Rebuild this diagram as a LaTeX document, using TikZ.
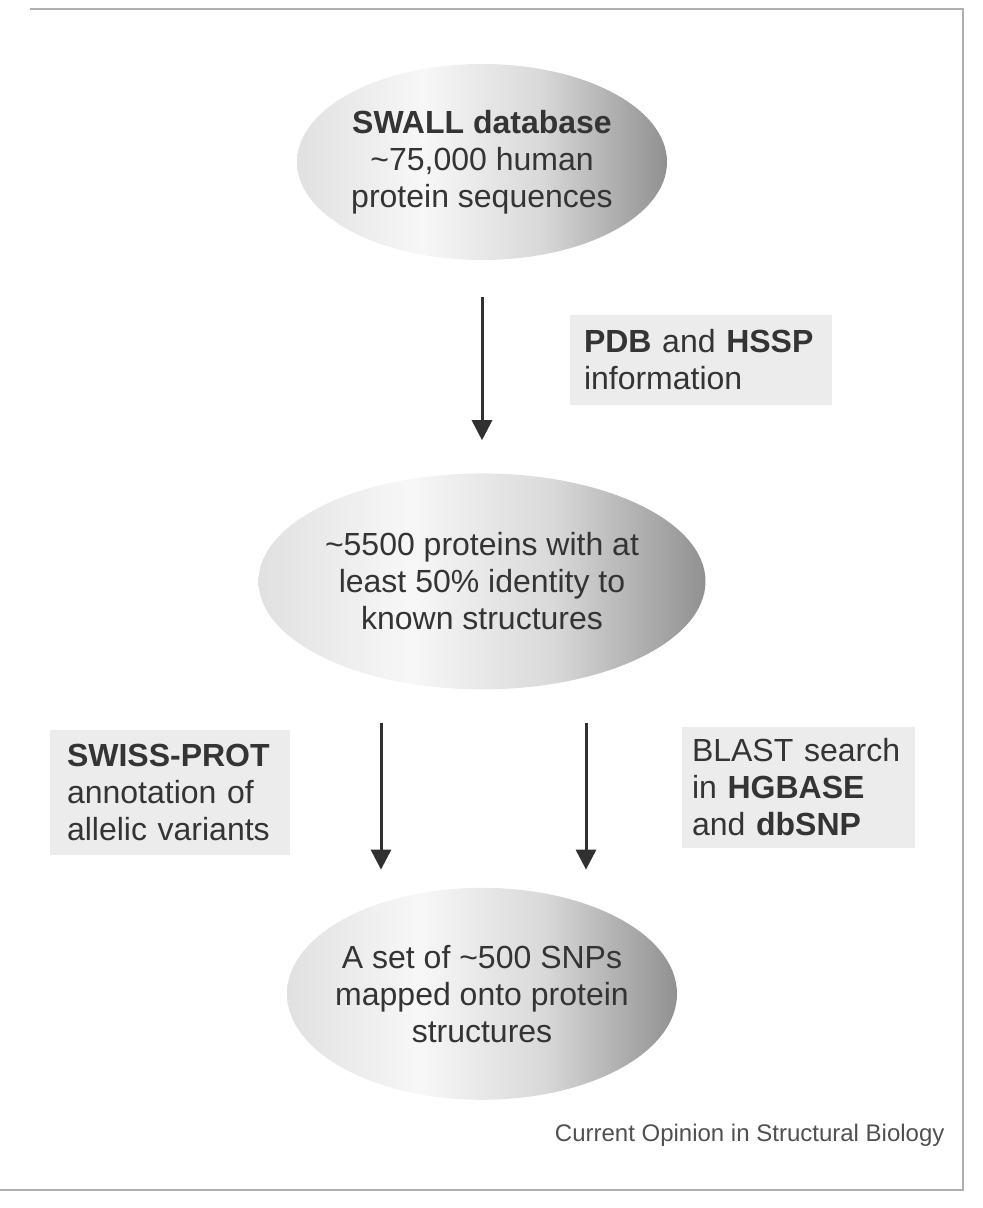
\documentclass[tikz,border=0pt]{standalone}
\usepackage{fontspec}
\setmainfont{Liberation Sans}
\usetikzlibrary{positioning,arrows.meta,shapes.geometric}
\usepackage{xcolor}
\definecolor{inkcol}{RGB}{52,52,52}
\definecolor{arrowcol}{RGB}{48,48,48}
\definecolor{notecol}{RGB}{236,236,236}
\definecolor{framecol}{RGB}{175,175,175}
\definecolor{creditcol}{RGB}{80,80,80}
\pgfdeclarehorizontalshading{ovalshade}{100bp}{color(0bp)=(black!26); color(25bp)=(black!12); color(42bp)=(black!3); color(58bp)=(black!15); color(82bp)=(black!55); color(100bp)=(black!44)}

\begin{document}
\begin{tikzpicture}[
    x=1pt, y=-1pt,
    font=\fontsize{32}{37}\selectfont,
    oval/.style={ellipse, shading=ovalshade, inner sep=0pt, align=center, text=inkcol},
    note/.style={fill=notecol, align=left, text=inkcol, inner sep=0pt},
    flow/.style={-{Triangle[width=20pt,length=20pt]}, line width=3pt, draw=arrowcol},
]
\useasboundingbox (0,0) rectangle (983,1208);

% ---- Frame ----
\draw[framecol, line width=1.2pt] (30,9) -- (963,9) -- (963,1190) -- (0,1190);

% ---- Ovals ----
\node[oval, minimum width=370pt, minimum height=196pt] (swall) at (482,162) {
  \textbf{SWALL database}\\
  \char`~75,000 human\\
  protein sequences
};
\node[oval, minimum width=447pt, minimum height=216pt, below=213pt of swall] (hits) {
  \char`~5500 proteins with at\\
  least 50\% identity to\\
  known structures
};
\node[oval, minimum width=390pt, minimum height=212pt, inner xsep=-10pt, below=198pt of hits] (snps) {
  A set of \char`~500 SNPs\\
  mapped onto protein\\
  structures
};

% ---- Notes ----
\node[note, minimum width=262pt, minimum height=90pt, text width=234pt] (pdb) at (701,360) {
  \textbf{PDB} and \textbf{HSSP}\\
  information
};
\node[note, minimum width=240pt, minimum height=125pt, text width=206pt] (swiss) at (170,792) {
  \textbf{SWISS-PROT}\\
  annotation of\\
  allelic variants
};
\node[note, minimum width=233pt, minimum height=121pt, text width=212pt] (blast) at (798,787) {
  BLAST search\\
  in \textbf{HGBASE}\\
  and \textbf{dbSNP}
};

% ---- Arrows ----
\draw[flow] ([yshift=-37pt]swall.south) -- ([yshift=33pt]hits.north);
\draw[flow] ([xshift=-101pt, yshift=-33pt]hits.south) -- ([xshift=-101pt, yshift=18pt]snps.north);
\draw[flow] ([xshift=104pt, yshift=-33pt]hits.south) -- ([xshift=104pt, yshift=18pt]snps.north);

% ---- Credit ----
\node[font=\fontsize{24}{28}\selectfont, text=creditcol, anchor=east] (credit) at (948,1135) {Current Opinion in Structural Biology};

\end{tikzpicture}
\end{document}
